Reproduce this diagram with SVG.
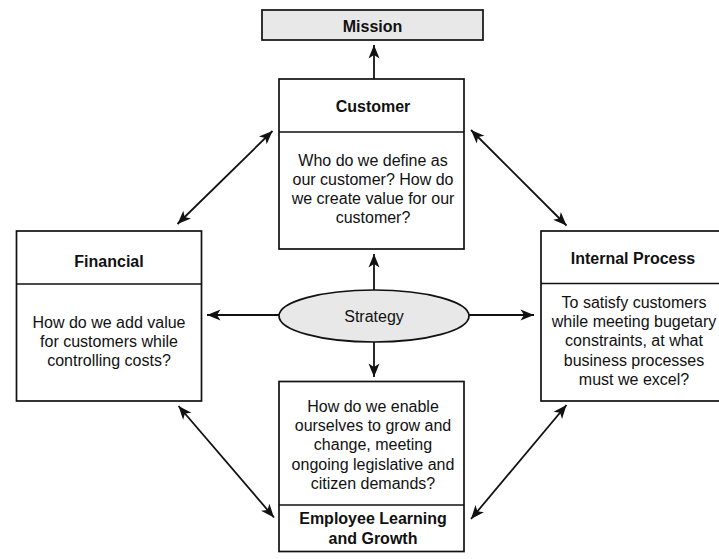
<svg xmlns="http://www.w3.org/2000/svg" width="719" height="559" viewBox="0 0 719 559">
<defs>
<style>
.box{fill:#fff;stroke:#111;stroke-width:1.7}
.gray{fill:#e8e8e8;stroke:#111;stroke-width:1.7}
.div{stroke:#111;stroke-width:1.7}
.t{font-family:"Liberation Sans",Arial,sans-serif;font-size:16px;fill:#111;text-anchor:middle}
.b{font-weight:bold}
.c{fill:none;stroke:#111;stroke-width:1.8}
.one{marker-end:url(#ah)}
.two{marker-start:url(#ah);marker-end:url(#ah)}
</style>
<marker id="ah" markerUnits="userSpaceOnUse" markerWidth="16" markerHeight="14" viewBox="0 0 16 14" refX="14.5" refY="7" orient="auto-start-reverse">
<path d="M1,1.5 L14.5,7 L1,12.5 L4.5,7 z" fill="#111"/>
</marker>
</defs>
<rect width="719" height="559" fill="#fff"/>
<g id="connectors">
<line class="c one" x1="374" y1="79" x2="374" y2="45"/>
<line class="c one" x1="374" y1="290" x2="374" y2="254"/>
<line class="c one" x1="374" y1="342" x2="374" y2="377"/>
<line class="c one" x1="279" y1="315" x2="207" y2="315"/>
<line class="c one" x1="469" y1="315" x2="534" y2="315"/>
<line class="c two" x1="177.5" y1="224" x2="272.5" y2="131"/>
<line class="c two" x1="471" y1="130" x2="566.5" y2="225.5"/>
<line class="c two" x1="178.5" y1="406" x2="274" y2="517.5"/>
<line class="c two" x1="566.5" y1="405" x2="471" y2="519"/>
</g>
<g id="mission">
<rect class="gray" x="262" y="10" width="221" height="30"/>
<text class="t b" x="372.5" y="32">Mission</text>
</g>
<g id="customer">
<rect class="box" x="279" y="79" width="185" height="170"/>
<line class="div" x1="279" y1="132" x2="464" y2="132"/>
<text class="t b" x="373" y="111.5">Customer</text>
<text class="t" x="373" y="166">Who do we define as</text>
<text class="t" x="373" y="185">our customer? How do</text>
<text class="t" x="373" y="204">we create value for our</text>
<text class="t" x="373" y="223">customer?</text>
</g>
<g id="financial">
<rect class="box" x="16.5" y="231" width="185" height="170"/>
<line class="div" x1="16.5" y1="284" x2="201.5" y2="284"/>
<text class="t b" x="109" y="266.5">Financial</text>
<text class="t" x="109" y="327.5">How do we add value</text>
<text class="t" x="109" y="346.5">for customers while</text>
<text class="t" x="109" y="366">controlling costs?</text>
</g>
<g id="internal">
<rect class="box" x="541" y="231" width="185" height="170"/>
<line class="div" x1="541" y1="283.5" x2="726" y2="283.5"/>
<text class="t b" x="633" y="263.5">Internal Process</text>
<text class="t" x="634" y="307.5">To satisfy customers</text>
<text class="t" x="634" y="326.5">while meeting bugetary</text>
<text class="t" x="634" y="346">constraints, at what</text>
<text class="t" x="634" y="365.5">business processes</text>
<text class="t" x="634" y="385">must we excel?</text>
</g>
<g id="strategy">
<ellipse class="gray" cx="374" cy="316" rx="95" ry="26"/>
<text class="t" x="374" y="321.5">Strategy</text>
</g>
<g id="employee">
<rect class="box" x="279" y="381.5" width="185" height="170"/>
<line class="div" x1="279" y1="505" x2="464" y2="505"/>
<text class="t" x="373" y="411.5">How do we enable</text>
<text class="t" x="373" y="431">ourselves to grow and</text>
<text class="t" x="373" y="450">change, meeting</text>
<text class="t" x="373" y="469.5">ongoing legislative and</text>
<text class="t" x="373" y="488.5">citizen demands?</text>
<text class="t b" x="373" y="524">Employee Learning</text>
<text class="t b" x="373" y="543.5">and Growth</text>
</g>
</svg>
